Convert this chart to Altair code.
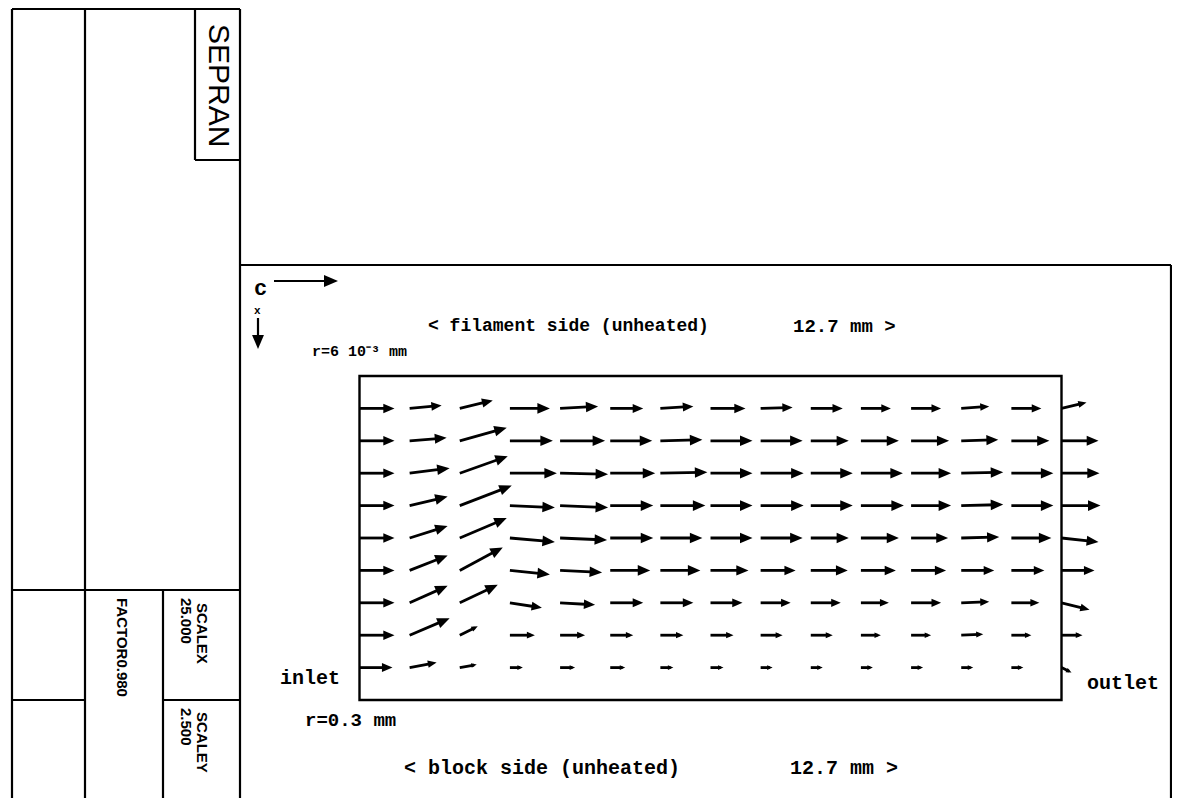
import math
import altair as alt
import pandas as pd

# ---------------- data ----------------
# axial node positions along the channel (mm), 0 .. 12.7 mm
X_NODES = [0.000, 0.907, 1.814, 2.721, 3.629, 4.536, 5.443, 6.350,
           7.257, 8.164, 9.071, 9.979, 10.886, 11.793, 12.700]
# transverse node positions (fraction of gap, 0 = filament side, 1 = block side)
D_NODES = [0.1, 0.2, 0.3, 0.4, 0.5, 0.6, 0.7, 0.8, 0.9]

# velocity components per node (plot units), rows = D_NODES, cols = X_NODES
U = [
    [35, 32, 33, 40, 38, 33, 33, 35, 32, 32, 30, 30, 28, 30, 25],
    [35, 37, 47, 43, 45, 42, 42, 42, 42, 38, 38, 38, 37, 38, 37],
    [35, 40, 48, 47, 48, 45, 47, 42, 43, 42, 42, 40, 42, 42, 38],
    [35, 38, 52, 45, 48, 43, 45, 42, 43, 42, 43, 40, 42, 42, 39],
    [35, 38, 47, 45, 47, 43, 42, 42, 42, 38, 38, 37, 38, 40, 37],
    [35, 38, 43, 40, 42, 40, 40, 38, 35, 37, 35, 35, 33, 33, 33],
    [35, 38, 38, 32, 35, 33, 33, 32, 30, 30, 28, 30, 28, 28, 28],
    [35, 40, 18, 25, 25, 23, 23, 23, 22, 22, 20, 20, 22, 20, 21],
    [33, 27, 17, 13, 15, 15, 13, 13, 12, 12, 12, 12, 12, 12, 10],
]
V = [
    [0, 3, 8, 0, 2, 0, 2, 0, 1, 0, 0, 0, 2, 0, 6],
    [0, 3, 13, 0, 0, 0, 1, 0, 0, 0, 0, 0, 1, 0, 0],
    [0, 5, 17, 0, -1, 0, 1, 0, 0, 0, 0, 0, 1, 0, 0],
    [0, 9, 20, -2, -2, 0, 0, 0, 0, 0, 0, 0, 1, 0, 0],
    [0, 12, 20, -4, -2, 0, 0, 0, 0, 0, 0, 0, 1, 0, -4],
    [0, 15, 23, -4, -2, 0, 0, 0, 0, 0, 0, 0, 0, 0, 0],
    [0, 17, 18, -5, -2, 0, 0, 0, 0, 0, 0, 0, 1, 0, -7],
    [0, 17, 9, 0, 0, 0, 0, 0, 0, 0, 0, 0, 1, 0, 0],
    [0, 5, 3, 0, 0, 0, 0, 0, 0, 0, 0, 0, 0, 0, -5],
]

# ---------------- layout ----------------
W, H = 1164, 790
PX_MM = 702 / 12.7          # pixels per mm along x
PX_D = 324.0                # pixels per unit of gap fraction
X_MIN = -(359.5 - 8) / PX_MM
X_MAX = X_MIN + W / PX_MM
D_MIN = -(376 - 8) / PX_D
D_MAX = D_MIN + H / PX_D
ARROW = "M0,0 L-2,-0.85 L-2,0.85 Z"

xs = alt.Scale(domain=[X_MIN, X_MAX], nice=False, zero=False)
ys = alt.Scale(domain=[D_MIN, D_MAX], nice=False, zero=False, reverse=True)

rows = []
for k, d in enumerate(D_NODES):
    for i, x in enumerate(X_NODES):
        u, v = U[k][i], V[k][i]
        L = math.hypot(u, v)
        h = min(12.5, max(5.5, 0.32 * L))
        x1 = x + u / PX_MM
        d1 = d - v / PX_D
        f = (L - 0.5 * h) / L
        rows.append(dict(x=x, d=d, x1=x1, d1=d1,
                         xs=x + f * u / PX_MM, ds=d - f * v / PX_D,
                         ang=math.degrees(math.atan2(-v, u)) % 360,
                         hs=h * h))
vec = pd.DataFrame(rows)

shafts = alt.Chart(vec).mark_rule(color="black", strokeWidth=2.8).encode(
    x=alt.X("x:Q", scale=xs, axis=None), y=alt.Y("d:Q", scale=ys, axis=None),
    x2="xs:Q", y2="ds:Q")
heads = alt.Chart(vec).mark_point(shape=ARROW, filled=True, color="black",
                                  opacity=1, strokeWidth=0).encode(
    x=alt.X("x1:Q", scale=xs, axis=None), y=alt.Y("d1:Q", scale=ys, axis=None),
    size=alt.Size("hs:Q", scale=None), angle=alt.Angle("ang:Q", scale=None))

box = pd.DataFrame([dict(x=0.0, x2=12.7, d=0.0, d2=1.0)])
inner = alt.Chart(box).mark_rect(fillOpacity=0, stroke="black", strokeWidth=2.4).encode(
    x=alt.X("x:Q", scale=xs, axis=None), x2="x2:Q",
    y=alt.Y("d:Q", scale=ys, axis=None), y2="d2:Q")

# ---------------- frame / title block (screen pixels) ----------------
O = 8
seg = [
    (12, 9, 240, 9), (12, 9, 12, 810), (85, 9, 85, 810), (240, 9, 240, 810),
    (195, 9, 195, 160), (195, 160, 240, 160), (12, 590, 240, 590),
    (12, 700, 85, 700), (163, 590, 163, 810), (163, 700, 240, 700),
    (240, 265, 1171, 265), (1171, 265, 1171, 810),
    (274, 281, 326, 281), (258, 318, 258, 336),
]
fr = pd.DataFrame([dict(a=a - O, b=min(b - O, H), c=c - O, e=min(e - O, H)) for a, b, c, e in seg])
frame = alt.Chart(fr).mark_rule(color="black", strokeWidth=2.2).encode(
    x=alt.X("a:Q", scale=None, axis=None), y=alt.Y("b:Q", scale=None, axis=None),
    x2="c:Q", y2="e:Q")

dh = pd.DataFrame([dict(x=338 - O, y=281 - O, ang=0, hs=196),
                   dict(x=258 - O, y=349 - O, ang=90, hs=196)])
dheads = alt.Chart(dh).mark_point(shape=ARROW, filled=True, color="black",
                                  opacity=1, strokeWidth=0).encode(
    x=alt.X("x:Q", scale=None, axis=None), y=alt.Y("y:Q", scale=None, axis=None),
    size=alt.Size("hs:Q", scale=None), angle=alt.Angle("ang:Q", scale=None))

mono = pd.DataFrame([
    dict(t="inlet", x=280, y=678, s=20),
    dict(t="outlet", x=1087, y=683, s=20),
    dict(t="r=0.3 mm", x=305, y=720, s=19),
    dict(t="< block side (unheated)", x=404, y=768, s=20),
    dict(t="12.7 mm >", x=790, y=768, s=20),
    dict(t="< filament side (unheated)", x=428, y=326, s=18),
    dict(t="12.7 mm >", x=793, y=326, s=19),
    dict(t="r=6 10\u207b\u00b3 mm", x=312, y=351, s=15),
    dict(t="c", x=254, y=288, s=22),
    dict(t="x", x=254, y=311, s=11),
])
mono["x"] -= O
mono["y"] -= O
mono_t = alt.Chart(mono).mark_text(font="Liberation Mono", fontWeight="bold",
                                   align="left", baseline="middle", color="black").encode(
    x=alt.X("x:Q", scale=None, axis=None), y=alt.Y("y:Q", scale=None, axis=None),
    text="t:N", size=alt.Size("s:Q", scale=None))

sep = pd.DataFrame([dict(t="SEPRAN", x=218 - O, y=24 - O)])
sep_t = alt.Chart(sep).mark_text(font="Liberation Sans", fontSize=30, angle=90,
                                 align="left", baseline="middle", color="black").encode(
    x=alt.X("x:Q", scale=None, axis=None), y=alt.Y("y:Q", scale=None, axis=None),
    text="t:N")

blk = pd.DataFrame([
    dict(t="FACTOR0.980", x=122, y=598),
    dict(t="SCALEX", x=202, y=603),
    dict(t="25.000", x=186, y=598),
    dict(t="SCALEY", x=202, y=712),
    dict(t="2.500", x=186, y=708),
])
blk["x"] -= O
blk["y"] -= O
blk_t = alt.Chart(blk).mark_text(font="Liberation Sans", fontWeight="bold", fontSize=15,
                                 angle=90, align="left", baseline="middle",
                                 color="black").encode(
    x=alt.X("x:Q", scale=None, axis=None), y=alt.Y("y:Q", scale=None, axis=None),
    text="t:N")

chart = alt.layer(frame, dheads, inner, shafts, heads, mono_t, sep_t, blk_t).resolve_scale(
    x="independent", y="independent").properties(
    width=W, height=H, autosize="none", padding=0, background="white"
).configure_view(strokeWidth=0)

chart.save("out.html", embed_options={"renderer": "svg", "actions": False})
